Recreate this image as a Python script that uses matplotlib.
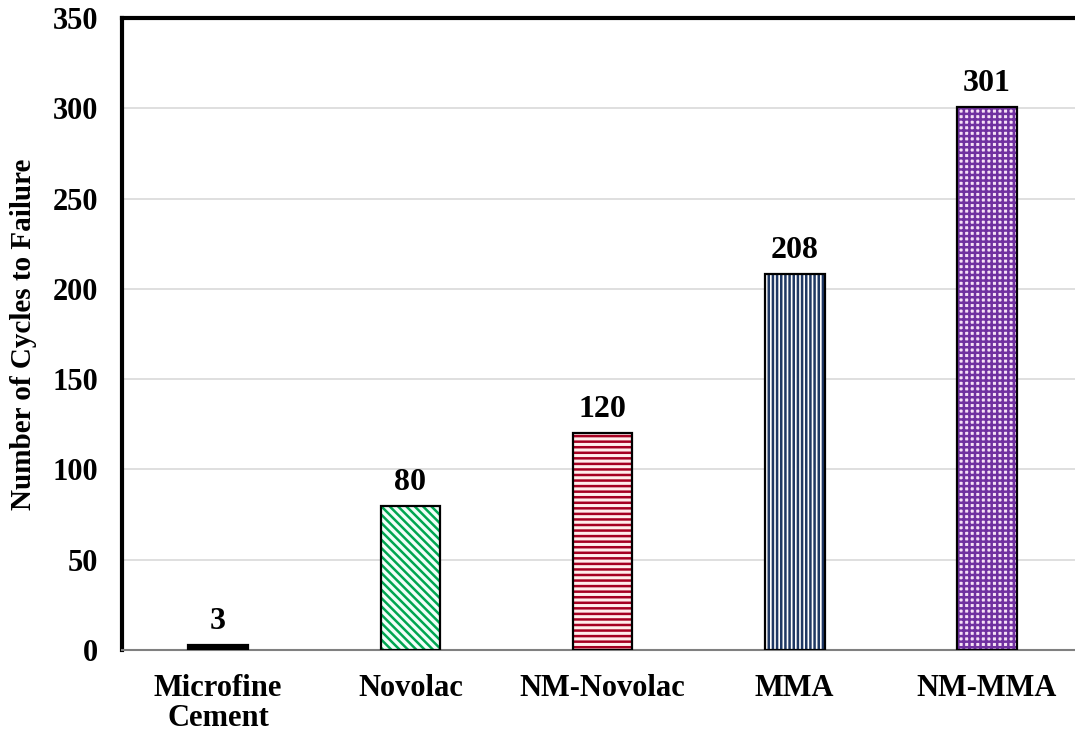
import matplotlib.pyplot as plt
import numpy as np

plt.rcParams['font.family'] = ['Liberation Serif', 'DejaVu Serif']
plt.rcParams['font.weight'] = 'bold'
plt.rcParams['hatch.linewidth'] = 1.8

materials = ['Microfine\nCement', 'Novolac', 'NM-Novolac', 'MMA', 'NM-MMA']
cycles = [3, 80, 120, 208, 301]

hatch_colors = ['black', '#00A651', '#A50021', '#1F3864', '#7030A0']
face_colors = ['black', '#F2FFFA', '#FFEDEB', 'white', '#F6E0F6']
hatches = ['', '\\\\\\\\', '---', '||||', '+++']

fig = plt.figure(figsize=(10.75, 7.37), dpi=100)
ax = fig.add_axes([0.1135, 0.118, 0.894, 0.8575])

x = np.arange(len(materials))
for i in range(len(materials)):
    # hatch layer, then a black outline on top
    ax.bar(x[i], cycles[i], width=0.31, color=face_colors[i], hatch=hatches[i],
           edgecolor=hatch_colors[i], linewidth=0, zorder=3)
    ax.bar(x[i], cycles[i], width=0.31, fill=False, edgecolor='black',
           linewidth=1.6, zorder=4)
    ax.text(x[i], cycles[i] + 5, str(cycles[i]), ha='center', va='bottom',
            fontsize=23, fontweight='bold')

ax.set_xlim(-0.5, 4.5)
ax.set_ylim(0, 350)
ax.set_yticks(np.arange(0, 351, 50))
ax.set_xticks(x)
ax.set_xticklabels(materials, fontsize=22, fontweight='bold', linespacing=1.05)
ax.tick_params(axis='both', length=0, labelsize=22)
ax.tick_params(axis='y', pad=17)
ax.tick_params(axis='x', pad=17)
ax.set_ylabel('Number of Cycles to Failure', fontsize=21, fontweight='bold', labelpad=11)

ax.grid(axis='y', color='#D9D9D9', linewidth=1.2, zorder=0)
ax.spines['left'].set_linewidth(3)
ax.spines['top'].set_linewidth(3)
ax.spines['right'].set_visible(False)
ax.spines['bottom'].set_color('#808080')
ax.spines['bottom'].set_linewidth(1.5)

fig.savefig('out.png', dpi=100)
